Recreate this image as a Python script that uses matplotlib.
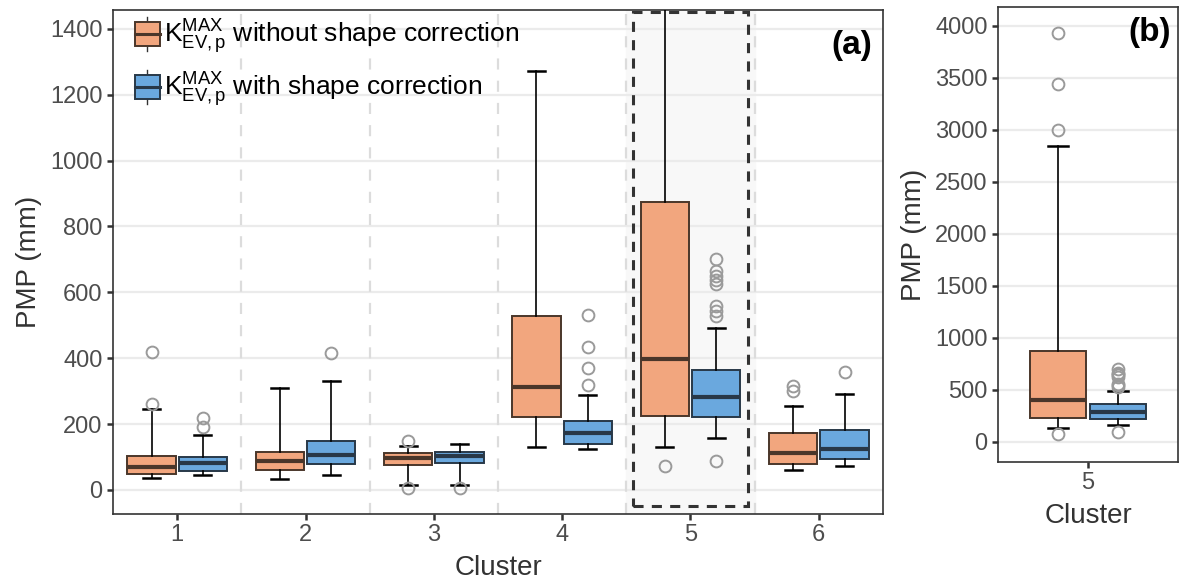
import matplotlib
matplotlib.use("Agg")
import matplotlib.pyplot as plt
from matplotlib.patches import Rectangle, Patch
from matplotlib.lines import Line2D
from matplotlib.legend_handler import HandlerBase

plt.rcParams["font.family"] = ["Liberation Sans", "DejaVu Sans"]
plt.rcParams["mathtext.fontset"] = "custom"
plt.rcParams["mathtext.rm"] = "Liberation Sans"
plt.rcParams["mathtext.it"] = "Liberation Sans:italic"
plt.rcParams["mathtext.bf"] = "Liberation Sans:bold"

clusters = [1, 2, 3, 4, 5, 6]

# PMP without shape correction (mm)
raw_lo = [35, 33, 16, 131, 129, 60]
raw_q1 = [48, 60, 75, 220, 225, 78]
raw_med = [71, 87, 98, 314, 397, 112]
raw_q3 = [104, 116, 112, 528, 875, 172]
raw_hi = [245, 309, 134, 1273, 2846, 255]
raw_out = [[262, 420], [], [5, 148], [], [74, 2997, 3437, 3927], [299, 316]]

# PMP with shape correction (mm)
cor_lo = [45, 44, 15, 124, 159, 72]
cor_q1 = [58, 78, 81, 141, 220, 94]
cor_med = [81, 107, 103, 172, 283, 124]
cor_q3 = [100, 148, 114, 208, 364, 183]
cor_hi = [168, 331, 140, 289, 491, 290]
cor_out = [[192, 217], [415], [5], [318, 370, 434, 530],
           [89, 528, 544, 559, 624, 637, 650, 665, 700], [357]]

ticks_a = [0, 200, 400, 600, 800, 1000, 1200, 1400]
ticks_b = [0, 500, 1000, 1500, 2000, 2500, 3000, 3500, 4000]

orange, orange_edge = "#F2A67E", "#4a362a"
blue, blue_edge = "#6AA8DE", "#283848"


def box_stats(i, lo, q1, med, q3, hi, out):
    return dict(whislo=lo[i], q1=q1[i], med=med[i], q3=q3[i], whishi=hi[i], fliers=out[i])


def draw_boxes(ax, stats, positions, fc, ec):
    ax.bxp(stats, positions=positions, widths=0.375, capwidths=0.13,
           patch_artist=True, showfliers=True, manage_ticks=False,
           boxprops=dict(facecolor=fc, edgecolor=ec, linewidth=1.4),
           medianprops=dict(color=ec, linewidth=3.0, solid_capstyle="butt"),
           whiskerprops=dict(color="black", linewidth=1.2),
           capprops=dict(color="black", linewidth=1.8),
           flierprops=dict(marker="o", markerfacecolor="none", markeredgecolor="#9a9a9a",
                           markersize=8.5, markeredgewidth=1.4),
           zorder=3)


def style_axes(ax):
    ax.set_facecolor("white")
    ax.set_axisbelow(True)
    ax.yaxis.grid(True, color="#ebebeb", linewidth=1.6, zorder=0)
    for s in ax.spines.values():
        s.set_color("#333333")
        s.set_linewidth(1.2)
    ax.tick_params(length=4.5, width=1.8, color="#333333", labelcolor="#4d4d4d",
                   labelsize=17, pad=3)


class BoxKey(HandlerBase):
    def create_artists(self, legend, orig_handle, xdescent, ydescent, width, height,
                       fontsize, trans):
        x0, y0 = -xdescent, -ydescent
        cx = x0 + width / 2
        whisk = Line2D([cx, cx], [y0 - height * 0.2, y0 + height * 1.2],
                       color="#333333", lw=1.0, transform=trans)
        rect = Rectangle((x0, y0), width, height, facecolor=orig_handle.get_facecolor(),
                         edgecolor=orig_handle.get_edgecolor(), lw=1.4, transform=trans)
        med = Line2D([x0, x0 + width], [y0 + height / 2] * 2,
                     color=orig_handle.get_edgecolor(), lw=2.2, transform=trans)
        return [whisk, rect, med]


fig = plt.figure(figsize=(11.79, 5.82), dpi=100)
ax = fig.add_axes([113 / 1179, 1 - 514 / 582, 770 / 1179, 504 / 582])
axb = fig.add_axes([998 / 1179, 1 - 462 / 582, 180 / 1179, 455 / 582])

# panel (a): all clusters
style_axes(ax)
n = len(clusters)
raw_stats = [box_stats(i, raw_lo, raw_q1, raw_med, raw_q3, raw_hi, raw_out) for i in range(n)]
cor_stats = [box_stats(i, cor_lo, cor_q1, cor_med, cor_q3, cor_hi, cor_out) for i in range(n)]

for b in range(1, n):
    ax.axvline(b + 0.5, color="#dcdcdc", linewidth=1.6, linestyle=(0, (5, 5)), zorder=1)

ax.axvspan(4.5, 5.5, color="#f8f8f8", zorder=0.5)
ax.add_patch(Rectangle((4.55, -50), 0.9, 1500, fill=False, edgecolor="#333333",
                       linewidth=2.2, linestyle=(0, (3.3, 2.7)), zorder=2))

draw_boxes(ax, raw_stats, [c - 0.2 for c in clusters], orange, orange_edge)
draw_boxes(ax, cor_stats, [c + 0.2 for c in clusters], blue, blue_edge)

ax.set_xlim(0.5, 6.5)
ax.set_ylim(-73, 1457)
ax.set_xticks(clusters)
ax.set_yticks(ticks_a)
ax.set_xlabel("Cluster", fontsize=20, color="#333333", labelpad=6)
ax.set_ylabel("PMP (mm)", fontsize=20, color="#333333", labelpad=6)
ax.text(0.986, 0.93, "(a)", transform=ax.transAxes, ha="right", va="center",
        fontsize=24, fontweight="bold", color="black")

label = r"$\mathrm{K}_{\mathrm{EV,p}}^{\mathrm{MAX}}$"
handles = [Patch(facecolor=orange, edgecolor=orange_edge),
           Patch(facecolor=blue, edgecolor=blue_edge)]
ax.legend(handles, [label + " without shape correction", label + " with shape correction"],
          handler_map={Patch: BoxKey()}, loc="upper left", bbox_to_anchor=(0.028, 0.985),
          frameon=False, fontsize=19, handlelength=0.95, handleheight=1.05,
          handletextpad=0.15, labelspacing=0.55, borderpad=0, borderaxespad=0)

# panel (b): cluster 5 at full range
style_axes(axb)
i5 = clusters.index(5)
draw_boxes(axb, [raw_stats[i5]], [1 - 0.2], orange, orange_edge)
draw_boxes(axb, [cor_stats[i5]], [1 + 0.2], blue, blue_edge)
axb.set_xlim(0.4, 1.6)
axb.set_ylim(-195, 4180)
axb.set_xticks([1])
axb.set_xticklabels([str(clusters[i5])])
axb.set_yticks(ticks_b)
axb.set_xlabel("Cluster", fontsize=20, color="#333333", labelpad=6)
axb.set_ylabel("PMP (mm)", fontsize=20, color="#333333", labelpad=6)
axb.text(0.96, 0.945, "(b)", transform=axb.transAxes, ha="right", va="center",
         fontsize=24, fontweight="bold", color="black")

fig.savefig("out.png", dpi=100)
